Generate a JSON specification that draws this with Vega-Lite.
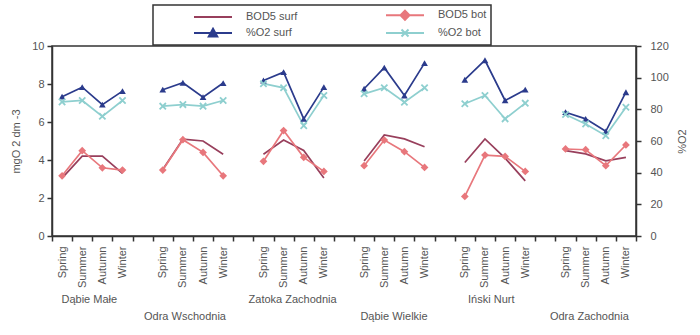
{
  "$schema": "https://vega.github.io/schema/vega-lite/v6.json",
  "width": 584,
  "height": 190,
  "padding": {"left": 10, "top": 4, "right": 10, "bottom": 4},
  "background": "white",
  "data": {"values": [
    {"site": "Dąbie Małe", "season": "Spring", "param": "BOD5 surf", "value": 3.05},
    {"site": "Dąbie Małe", "season": "Summer", "param": "BOD5 surf", "value": 4.2},
    {"site": "Dąbie Małe", "season": "Autumn", "param": "BOD5 surf", "value": 4.2},
    {"site": "Dąbie Małe", "season": "Winter", "param": "BOD5 surf", "value": 3.3},
    {"site": "Dąbie Małe", "season": "Spring", "param": "BOD5 bot", "value": 3.17},
    {"site": "Dąbie Małe", "season": "Summer", "param": "BOD5 bot", "value": 4.49},
    {"site": "Dąbie Małe", "season": "Autumn", "param": "BOD5 bot", "value": 3.59},
    {"site": "Dąbie Małe", "season": "Winter", "param": "BOD5 bot", "value": 3.47},
    {"site": "Dąbie Małe", "season": "Spring", "param": "%O2 surf", "value": 88},
    {"site": "Dąbie Małe", "season": "Summer", "param": "%O2 surf", "value": 94},
    {"site": "Dąbie Małe", "season": "Autumn", "param": "%O2 surf", "value": 83},
    {"site": "Dąbie Małe", "season": "Winter", "param": "%O2 surf", "value": 91.5},
    {"site": "Dąbie Małe", "season": "Spring", "param": "%O2 bot", "value": 84.7},
    {"site": "Dąbie Małe", "season": "Summer", "param": "%O2 bot", "value": 85.6},
    {"site": "Dąbie Małe", "season": "Autumn", "param": "%O2 bot", "value": 75.6},
    {"site": "Dąbie Małe", "season": "Winter", "param": "%O2 bot", "value": 85.6},
    {"site": "Odra Wschodnia", "season": "Spring", "param": "BOD5 surf", "value": 3.5},
    {"site": "Odra Wschodnia", "season": "Summer", "param": "BOD5 surf", "value": 5.1},
    {"site": "Odra Wschodnia", "season": "Autumn", "param": "BOD5 surf", "value": 5.0},
    {"site": "Odra Wschodnia", "season": "Winter", "param": "BOD5 surf", "value": 4.3},
    {"site": "Odra Wschodnia", "season": "Spring", "param": "BOD5 bot", "value": 3.47},
    {"site": "Odra Wschodnia", "season": "Summer", "param": "BOD5 bot", "value": 5.07},
    {"site": "Odra Wschodnia", "season": "Autumn", "param": "BOD5 bot", "value": 4.4},
    {"site": "Odra Wschodnia", "season": "Winter", "param": "BOD5 bot", "value": 3.17},
    {"site": "Odra Wschodnia", "season": "Spring", "param": "%O2 surf", "value": 92.4},
    {"site": "Odra Wschodnia", "season": "Summer", "param": "%O2 surf", "value": 96.8},
    {"site": "Odra Wschodnia", "season": "Autumn", "param": "%O2 surf", "value": 87.7},
    {"site": "Odra Wschodnia", "season": "Winter", "param": "%O2 surf", "value": 96.6},
    {"site": "Odra Wschodnia", "season": "Spring", "param": "%O2 bot", "value": 82},
    {"site": "Odra Wschodnia", "season": "Summer", "param": "%O2 bot", "value": 83},
    {"site": "Odra Wschodnia", "season": "Autumn", "param": "%O2 bot", "value": 82},
    {"site": "Odra Wschodnia", "season": "Winter", "param": "%O2 bot", "value": 85.6},
    {"site": "Zatoka Zachodnia", "season": "Spring", "param": "BOD5 surf", "value": 4.3},
    {"site": "Zatoka Zachodnia", "season": "Summer", "param": "BOD5 surf", "value": 5.05},
    {"site": "Zatoka Zachodnia", "season": "Autumn", "param": "BOD5 surf", "value": 4.5},
    {"site": "Zatoka Zachodnia", "season": "Winter", "param": "BOD5 surf", "value": 3.05},
    {"site": "Zatoka Zachodnia", "season": "Spring", "param": "BOD5 bot", "value": 3.93},
    {"site": "Zatoka Zachodnia", "season": "Summer", "param": "BOD5 bot", "value": 5.55},
    {"site": "Zatoka Zachodnia", "season": "Autumn", "param": "BOD5 bot", "value": 4.14},
    {"site": "Zatoka Zachodnia", "season": "Winter", "param": "BOD5 bot", "value": 3.4},
    {"site": "Zatoka Zachodnia", "season": "Spring", "param": "%O2 surf", "value": 98.2},
    {"site": "Zatoka Zachodnia", "season": "Summer", "param": "%O2 surf", "value": 103.5},
    {"site": "Zatoka Zachodnia", "season": "Autumn", "param": "%O2 surf", "value": 74},
    {"site": "Zatoka Zachodnia", "season": "Winter", "param": "%O2 surf", "value": 94},
    {"site": "Zatoka Zachodnia", "season": "Spring", "param": "%O2 bot", "value": 96.2},
    {"site": "Zatoka Zachodnia", "season": "Summer", "param": "%O2 bot", "value": 93.6},
    {"site": "Zatoka Zachodnia", "season": "Autumn", "param": "%O2 bot", "value": 69.7},
    {"site": "Zatoka Zachodnia", "season": "Winter", "param": "%O2 bot", "value": 88.7},
    {"site": "Dąbie Wielkie", "season": "Spring", "param": "BOD5 surf", "value": 3.95},
    {"site": "Dąbie Wielkie", "season": "Summer", "param": "BOD5 surf", "value": 5.32},
    {"site": "Dąbie Wielkie", "season": "Autumn", "param": "BOD5 surf", "value": 5.11},
    {"site": "Dąbie Wielkie", "season": "Winter", "param": "BOD5 surf", "value": 4.7},
    {"site": "Dąbie Wielkie", "season": "Spring", "param": "BOD5 bot", "value": 3.7},
    {"site": "Dąbie Wielkie", "season": "Summer", "param": "BOD5 bot", "value": 5.05},
    {"site": "Dąbie Wielkie", "season": "Autumn", "param": "BOD5 bot", "value": 4.44},
    {"site": "Dąbie Wielkie", "season": "Winter", "param": "BOD5 bot", "value": 3.61},
    {"site": "Dąbie Wielkie", "season": "Spring", "param": "%O2 surf", "value": 93},
    {"site": "Dąbie Wielkie", "season": "Summer", "param": "%O2 surf", "value": 106.3},
    {"site": "Dąbie Wielkie", "season": "Autumn", "param": "%O2 surf", "value": 88.7},
    {"site": "Dąbie Wielkie", "season": "Winter", "param": "%O2 surf", "value": 109.2},
    {"site": "Dąbie Wielkie", "season": "Spring", "param": "%O2 bot", "value": 89.8},
    {"site": "Dąbie Wielkie", "season": "Summer", "param": "%O2 bot", "value": 93.6},
    {"site": "Dąbie Wielkie", "season": "Autumn", "param": "%O2 bot", "value": 84.5},
    {"site": "Dąbie Wielkie", "season": "Winter", "param": "%O2 bot", "value": 93.6},
    {"site": "Iński Nurt", "season": "Spring", "param": "BOD5 surf", "value": 3.87},
    {"site": "Iński Nurt", "season": "Summer", "param": "BOD5 surf", "value": 5.11},
    {"site": "Iński Nurt", "season": "Autumn", "param": "BOD5 surf", "value": 4.1},
    {"site": "Iński Nurt", "season": "Winter", "param": "BOD5 surf", "value": 2.9},
    {"site": "Iński Nurt", "season": "Spring", "param": "BOD5 bot", "value": 2.08},
    {"site": "Iński Nurt", "season": "Summer", "param": "BOD5 bot", "value": 4.26},
    {"site": "Iński Nurt", "season": "Autumn", "param": "BOD5 bot", "value": 4.19},
    {"site": "Iński Nurt", "season": "Winter", "param": "BOD5 bot", "value": 3.4},
    {"site": "Iński Nurt", "season": "Spring", "param": "%O2 surf", "value": 98.7},
    {"site": "Iński Nurt", "season": "Summer", "param": "%O2 surf", "value": 111},
    {"site": "Iński Nurt", "season": "Autumn", "param": "%O2 surf", "value": 85.6},
    {"site": "Iński Nurt", "season": "Winter", "param": "%O2 surf", "value": 92.4},
    {"site": "Iński Nurt", "season": "Spring", "param": "%O2 bot", "value": 83.5},
    {"site": "Iński Nurt", "season": "Summer", "param": "%O2 bot", "value": 88.7},
    {"site": "Iński Nurt", "season": "Autumn", "param": "%O2 bot", "value": 74},
    {"site": "Iński Nurt", "season": "Winter", "param": "%O2 bot", "value": 83.9},
    {"site": "Odra Zachodnia", "season": "Spring", "param": "BOD5 surf", "value": 4.49},
    {"site": "Odra Zachodnia", "season": "Summer", "param": "BOD5 surf", "value": 4.32},
    {"site": "Odra Zachodnia", "season": "Autumn", "param": "BOD5 surf", "value": 3.96},
    {"site": "Odra Zachodnia", "season": "Winter", "param": "BOD5 surf", "value": 4.14},
    {"site": "Odra Zachodnia", "season": "Spring", "param": "BOD5 bot", "value": 4.58},
    {"site": "Odra Zachodnia", "season": "Summer", "param": "BOD5 bot", "value": 4.54},
    {"site": "Odra Zachodnia", "season": "Autumn", "param": "BOD5 bot", "value": 3.7},
    {"site": "Odra Zachodnia", "season": "Winter", "param": "BOD5 bot", "value": 4.79},
    {"site": "Odra Zachodnia", "season": "Spring", "param": "%O2 surf", "value": 78.2},
    {"site": "Odra Zachodnia", "season": "Summer", "param": "%O2 surf", "value": 74},
    {"site": "Odra Zachodnia", "season": "Autumn", "param": "%O2 surf", "value": 66.1},
    {"site": "Odra Zachodnia", "season": "Winter", "param": "%O2 surf", "value": 90.8},
    {"site": "Odra Zachodnia", "season": "Spring", "param": "%O2 bot", "value": 76.7},
    {"site": "Odra Zachodnia", "season": "Summer", "param": "%O2 bot", "value": 70.8},
    {"site": "Odra Zachodnia", "season": "Autumn", "param": "%O2 bot", "value": 63.4},
    {"site": "Odra Zachodnia", "season": "Winter", "param": "%O2 bot", "value": 81.3}
  ]},
  "transform": [{"calculate": "datum.site + '|' + datum.season", "as": "slot"}],
  "encoding": {
    "x": {
      "field": "slot", "type": "nominal",
      "scale": {"type": "band", "paddingInner": 0, "paddingOuter": 0, "domain": [
        "Dąbie Małe|Spring", "Dąbie Małe|Summer", "Dąbie Małe|Autumn", "Dąbie Małe|Winter", "gap1",
        "Odra Wschodnia|Spring", "Odra Wschodnia|Summer", "Odra Wschodnia|Autumn", "Odra Wschodnia|Winter", "gap2",
        "Zatoka Zachodnia|Spring", "Zatoka Zachodnia|Summer", "Zatoka Zachodnia|Autumn", "Zatoka Zachodnia|Winter", "gap3",
        "Dąbie Wielkie|Spring", "Dąbie Wielkie|Summer", "Dąbie Wielkie|Autumn", "Dąbie Wielkie|Winter", "gap4",
        "Iński Nurt|Spring", "Iński Nurt|Summer", "Iński Nurt|Autumn", "Iński Nurt|Winter", "gap5",
        "Odra Zachodnia|Spring", "Odra Zachodnia|Summer", "Odra Zachodnia|Autumn", "Odra Zachodnia|Winter"]},
      "axis": {
        "orient": "bottom", "labelAngle": -90, "tickBand": "extent",
        "labelExpr": "isString(datum.value) && indexof(datum.value, '|') >= 0 ? split(datum.value, '|')[1] : ''",
        "labelPadding": 5, "tickSize": 5,
        "title": [
          "Dąbie Małe\u00a0\u00a0\u00a0\u00a0\u00a0\u00a0\u00a0\u00a0\u00a0\u00a0\u00a0\u00a0\u00a0\u00a0\u00a0\u00a0\u00a0\u00a0\u00a0\u00a0\u00a0\u00a0\u00a0\u00a0\u00a0\u00a0\u00a0\u00a0\u00a0\u00a0\u00a0\u00a0\u00a0\u00a0\u00a0\u00a0\u00a0\u00a0\u00a0\u00a0\u00a0\u00a0\u00a0Zatoka Zachodnia\u00a0\u00a0\u00a0\u00a0\u00a0\u00a0\u00a0\u00a0\u00a0\u00a0\u00a0\u00a0\u00a0\u00a0\u00a0\u00a0\u00a0\u00a0\u00a0\u00a0\u00a0\u00a0\u00a0\u00a0\u00a0\u00a0\u00a0\u00a0\u00a0\u00a0\u00a0\u00a0\u00a0\u00a0\u00a0\u00a0\u00a0\u00a0\u00a0\u00a0\u00a0\u00a0\u00a0Iński Nurt",
          "\u200b\u00a0\u00a0\u00a0\u00a0\u00a0\u00a0\u00a0\u00a0\u00a0\u00a0\u00a0\u00a0\u00a0\u00a0\u00a0\u00a0\u00a0\u00a0\u00a0\u00a0\u00a0\u00a0\u00a0\u00a0\u00a0\u00a0\u00a0Odra Wschodnia\u00a0\u00a0\u00a0\u00a0\u00a0\u00a0\u00a0\u00a0\u00a0\u00a0\u00a0\u00a0\u00a0\u00a0\u00a0\u00a0\u00a0\u00a0\u00a0\u00a0\u00a0\u00a0\u00a0\u00a0\u00a0\u00a0\u00a0\u00a0\u00a0\u00a0\u00a0\u00a0\u00a0\u00a0\u00a0\u00a0\u00a0\u00a0\u00a0\u00a0\u00a0\u00a0\u00a0\u00a0Dąbie Wielkie\u00a0\u00a0\u00a0\u00a0\u00a0\u00a0\u00a0\u00a0\u00a0\u00a0\u00a0\u00a0\u00a0\u00a0\u00a0\u00a0\u00a0\u00a0\u00a0\u00a0\u00a0\u00a0\u00a0\u00a0\u00a0\u00a0\u00a0\u00a0\u00a0\u00a0\u00a0\u00a0\u00a0\u00a0\u00a0\u00a0\u00a0\u00a0\u00a0\u00a0Odra Zachodnia"
        ],
        "titleAnchor": "start", "titleAlign": "left", "titleBaseline": "top", "titleY": 57, "titleX": 9,
        "titleLineHeight": 17, "titleLimit": 2000
      }
    },
    "color": {
      "field": "param", "type": "nominal",
      "scale": {"domain": ["BOD5 surf", "%O2 surf", "BOD5 bot", "%O2 bot"], "range": ["#983F5C", "#2B3B8C", "#E8777C", "#8ECFCF"]},
      "legend": {
        "orient": "none", "legendX": 101, "legendY": -41, "columns": 2, "direction": "vertical",
        "title": "\u00a0", "titleOrient": "left", "titlePadding": 37, "titleFontSize": 11,
        "padding": 4, "strokeColor": "#333", "fillColor": "white",
        "symbolSize": 100, "symbolOffset": 13, "labelOffset": 27, "symbolStrokeWidth": 2,
        "labelFont": "Liberation Sans", "labelFontSize": 11, "labelColor": "#555",
        "columnPadding": 84, "rowPadding": 0,
        "labelExpr": "indexof(datum.label, 'bot') >= 0 ? datum.label + '\u00a0\u00a0\u00a0\u00a0\u00a0\u00a0\u00a0\u00a0\u00a0\u00a0\u00a0\u00a0\u00a0\u00a0\u00a0\u00a0\u00a0\u00a0\u00a0\u00a0\u00a0\u00a0' : datum.label",
        "encode": {
          "legend": {"update": {"strokeWidth": {"value": 1.5}}},
          "symbols": {"update": {
            "shape": {"signal": "datum.value === 'BOD5 surf' ? 'M-3.8,0H3.8' : datum.value === 'BOD5 bot' ? 'M-3.8,0H3.8M0,-0.9L0.9,0L0,0.9L-0.9,0Z' : datum.value === '%O2 surf' ? 'M-3.8,0H3.8M0,-0.85L0.85,0.7L-0.85,0.7Z' : 'M-3.8,0H3.8M-0.7,-0.7L0.7,0.7M-0.7,0.7L0.7,-0.7'"},
            "fill": {"signal": "datum.value === 'BOD5 surf' || datum.value === '%O2 bot' ? 'transparent' : scale('color', datum.value)"},
            "stroke": {"signal": "scale('color', datum.value)"},
            "strokeWidth": {"value": 2},
            "opacity": {"value": 1}
          }}
        }
      }
    }
  },
  "layer": [
    {
      "transform": [{"filter": "indexof(datum.param, 'BOD5') === 0"}],
      "encoding": {
        "y": {
          "field": "value", "type": "quantitative",
          "scale": {"domain": [0, 10], "nice": false},
          "axis": {"orient": "left", "values": [0, 2, 4, 6, 8, 10], "title": "mgO 2 dm -3", "labelPadding": 3, "titlePadding": 10}
        }
      },
      "layer": [
        {"mark": {"type": "line", "strokeWidth": 1.7}, "encoding": {"detail": {"field": "site"}}},
        {"transform": [{"filter": "datum.param === 'BOD5 bot'"}], "mark": {"type": "point", "shape": "diamond", "filled": true, "size": 60, "opacity": 1}}
      ]
    },
    {
      "transform": [{"filter": "indexof(datum.param, '%O2') === 0"}],
      "encoding": {
        "y": {
          "field": "value", "type": "quantitative",
          "scale": {"domain": [0, 120], "nice": false},
          "axis": {"orient": "right", "values": [0, 20, 40, 60, 80, 100, 120], "title": "%O2", "titleAngle": -90, "titleBaseline": "top", "labelPadding": 9, "titlePadding": 8}
        }
      },
      "layer": [
        {"mark": {"type": "line", "strokeWidth": 1.7}, "encoding": {"detail": {"field": "site"}}},
        {"transform": [{"filter": "datum.param === '%O2 surf'"}], "mark": {"type": "point", "shape": "triangle-up", "filled": true, "size": 45, "opacity": 1}},
        {"transform": [{"filter": "datum.param === '%O2 bot'"}], "mark": {"type": "point", "shape": "M-1,-1L1,1M-1,1L1,-1", "filled": false, "strokeWidth": 1.8, "size": 40, "opacity": 1}}
      ]
    }
  ],
  "resolve": {"scale": {"y": "independent"}},
  "config": {
    "font": "Liberation Sans",
    "view": {"stroke": "#333", "strokeWidth": 1.5},
    "axis": {
      "grid": false, "labelFont": "Liberation Sans", "labelFontSize": 11, "labelColor": "#555",
      "titleFont": "Liberation Sans", "titleFontSize": 11, "titleFontWeight": "normal", "titleColor": "#555",
      "domainColor": "#333", "domainWidth": 1.5, "tickColor": "#333", "tickWidth": 1.5
    }
  }
}
